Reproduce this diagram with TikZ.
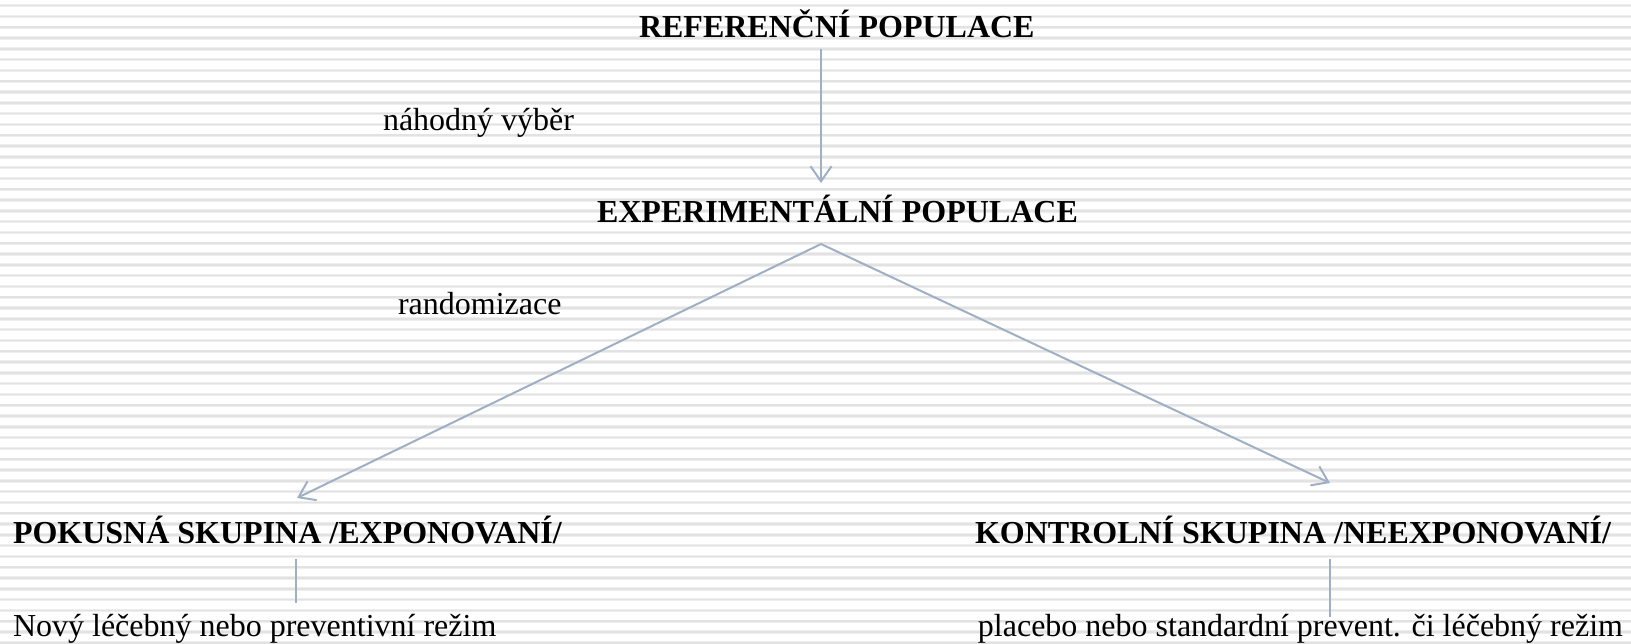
\documentclass[tikz,border=0pt]{standalone}
\usepackage{fontspec}
\setmainfont{Liberation Serif}
\usetikzlibrary{arrows.meta}
\definecolor{arrowc}{RGB}{160,176,196}
\definecolor{stripeA}{RGB}{238,238,238}
\definecolor{stripeB}{RGB}{226,226,226}
\tikzset{
  lbl/.style={anchor=base west, inner sep=0pt, outer sep=0pt, font=\fontsize{32}{38}\selectfont},
  head/.style={lbl, font=\fontsize{32}{38}\selectfont\bfseries},
  conn/.style={draw=arrowc, line width=2pt},
  arr/.style={conn, -{Straight Barb[length=15pt,width=21pt,line width=2pt]}},
}
\begin{document}
\begin{tikzpicture}[x=1pt,y=-1pt]
\useasboundingbox (0,0) rectangle (1631,643);
\fill[white] (0,0) rectangle (1631,643);
% striped background
\foreach \k in {0,...,59}{
  \pgfmathsetmacro{\yy}{5.6+10.8*\k}
  \draw[stripeA, line width=3.4pt] (0,\yy) -- (1631,\yy);
  \draw[stripeB, line width=1.5pt] (0,\yy) -- (1631,\yy);
}
% texts
\node[head] (ref) at (639,37) {REFERENČNÍ POPULACE};
\node[lbl] (nah) at (383,130) {náhodný výběr};
\node[head] (exp) at (597,222) {EXPERIMENTÁLNÍ POPULACE};
\node[lbl] (rand) at (398,314) {randomizace};
\node[head] (pok) at (13,543) {POKUSNÁ SKUPINA /EXPONOVANÍ/};
\node[head, anchor=base east] (kon) at (1611,543) {KONTROLNÍ SKUPINA /NEEXPONOVANÍ/};
\node[lbl] (novy) at (13,636) {Nový léčebný nebo preventivní režim};
\node[lbl, anchor=base east] (plac) at (1623,636) {placebo nebo standardní prevent. či léčebný režim};
% connector points
\coordinate (refout) at (821,49);
\coordinate (expin) at (821,183);
\coordinate (apex) at (821,244);
\coordinate (pokin) at (297,498);
\coordinate (konin) at (1330,483);
\coordinate (pokout) at (296,559);
\coordinate (novyin) at (296,603);
\coordinate (konout) at (1330,559);
\coordinate (placin) at (1330,617);
% connectors
\draw[arr] (refout) -- (expin);
\draw[arr] (apex) -- (pokin);
\draw[arr] (apex) -- (konin);
\draw[conn] (pokout) -- (novyin);
\draw[conn] (konout) -- (placin);
\end{tikzpicture}
\end{document}
